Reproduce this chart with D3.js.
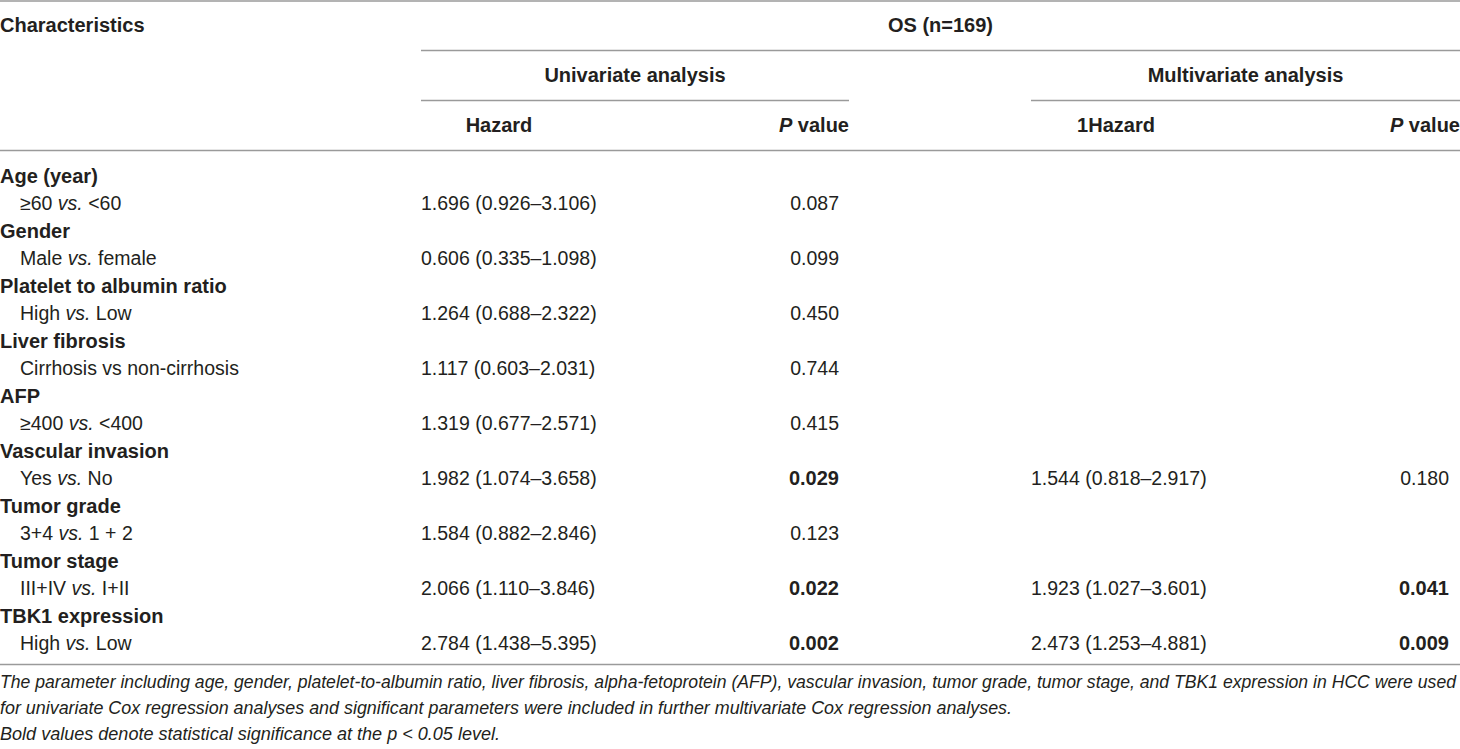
<!DOCTYPE html>
<html>
<head>
<meta charset="utf-8">
<script src="https://cdn.jsdelivr.net/npm/d3@7"></script>
<style>
  html, body { margin: 0; padding: 0; background: #fff; }
  svg { display: block; }
  text { font-family: "Liberation Sans", Arial, Helvetica, sans-serif; fill: #231f20; }
</style>
</head>
<body>
<svg id="chart" width="1460" height="749"></svg>
<script>
// ---------------- data ----------------
const title = "OS (n=169)";
const headerFirst = "Characteristics";
const groupLabels = ["Univariate analysis", "Multivariate analysis"];
const colLabels = ["Hazard", "P value", "1Hazard", "P value"];
const categories = ["Age (year)", "Gender", "Platelet to albumin ratio", "Liver fibrosis", "AFP",
  "Vascular invasion", "Tumor grade", "Tumor stage", "TBK1 expression"];
// segments wrapped in * * are italic
const comparisons = ["≥60 *vs.* <60", "Male *vs.* female", "High *vs.* Low", "Cirrhosis vs non-cirrhosis",
  "≥400 *vs.* <400", "Yes *vs.* No", "3+4 *vs.* 1 + 2", "III+IV *vs.* I+II", "High *vs.* Low"];
const uniHazard = ["1.696 (0.926–3.106)", "0.606 (0.335–1.098)", "1.264 (0.688–2.322)", "1.117 (0.603–2.031)",
  "1.319 (0.677–2.571)", "1.982 (1.074–3.658)", "1.584 (0.882–2.846)", "2.066 (1.110–3.846)", "2.784 (1.438–5.395)"];
const uniP = ["0.087", "0.099", "0.450", "0.744", "0.415", "0.029", "0.123", "0.022", "0.002"];
const multiHazard = [null, null, null, null, null, "1.544 (0.818–2.917)", null, "1.923 (1.027–3.601)", "2.473 (1.253–4.881)"];
const multiP = [null, null, null, null, null, "0.180", null, "0.041", "0.009"];
const alpha = 0.05;
const footnotes = [
  "The parameter including age, gender, platelet-to-albumin ratio, liver fibrosis, alpha-fetoprotein (AFP), vascular invasion, tumor grade, tumor stage, and TBK1 expression in HCC were used",
  "for univariate Cox regression analyses and significant parameters were included in further multivariate Cox regression analyses.",
  "Bold values denote statistical significance at the p < 0.05 level."
];

// ---------------- layout ----------------
const W = 1460;
const svg = d3.select("#chart");
const lineColor = "#9a9a9a";
const regSize = 19.5, boldSize = 20;

// rows: category row + comparison row per category
const rowKeys = [];
categories.forEach((c, i) => { rowKeys.push("c" + i); rowKeys.push("s" + i); });
const y = d3.scalePoint().domain(rowKeys).range([183, 650]);

// columns
const x = d3.scaleOrdinal()
  .domain(["label", "sub", "uniH", "uniP", "multiH", "multiP", "uniPHead", "multiPHead", "uniHHead", "multiHHead"])
  .range([0, 20, 421, 839, 1031, 1449, 849, 1460, 499, 1116]);
const groupSpan = [[421, 849], [1031, 1460]];

// rules
function hline(x1, x2, yy) {
  svg.append("line").attr("x1", x1).attr("x2", x2).attr("y1", yy).attr("y2", yy)
    .attr("stroke", lineColor).attr("stroke-width", 1.4);
}
hline(0, W, 1);
hline(421, W, 50.5);
groupSpan.forEach(s => hline(s[0], s[1], 100.5));
hline(0, W, 150.5);
hline(0, W, 664.5);

// header
svg.append("text").attr("x", 0).attr("y", 32).attr("font-weight", "bold").attr("font-size", boldSize).text(headerFirst);
svg.append("text").attr("x", (421 + W) / 2).attr("y", 32).attr("text-anchor", "middle")
  .attr("font-weight", "bold").attr("font-size", boldSize).text(title);
groupLabels.forEach((g, i) => {
  svg.append("text").attr("x", (groupSpan[i][0] + groupSpan[i][1]) / 2).attr("y", 82)
    .attr("text-anchor", "middle").attr("font-weight", "bold").attr("font-size", boldSize).text(g);
});
function headCell(label, xx, anchor) {
  const t = svg.append("text").attr("x", xx).attr("y", 132).attr("text-anchor", anchor)
    .attr("font-weight", "bold").attr("font-size", boldSize);
  if (label.startsWith("P ")) {
    t.append("tspan").attr("font-style", "italic").text("P");
    t.append("tspan").text(label.slice(1));
  } else t.text(label);
}
headCell(colLabels[0], x("uniHHead"), "middle");
headCell(colLabels[1], x("uniPHead"), "end");
headCell(colLabels[2], x("multiHHead"), "middle");
headCell(colLabels[3], x("multiPHead"), "end");

// body
categories.forEach((c, i) => {
  svg.append("text").attr("x", x("label")).attr("y", y("c" + i))
    .attr("font-weight", "bold").attr("font-size", boldSize).text(c);
  const t = svg.append("text").attr("x", x("sub")).attr("y", y("s" + i)).attr("font-size", regSize)
    .attr("xml:space", "preserve").style("white-space", "pre");
  comparisons[i].split("*").forEach((seg, k) => {
    if (!seg) return;
    const sp = t.append("tspan").text(seg);
    if (k % 2 === 1) sp.attr("font-style", "italic");
  });
  const yy = y("s" + i);
  svg.append("text").attr("x", x("uniH")).attr("y", yy).attr("font-size", regSize).text(uniHazard[i]);
  svg.append("text").attr("x", x("uniP")).attr("y", yy).attr("text-anchor", "end")
    .attr("font-size", +uniP[i] < alpha ? boldSize : regSize)
    .attr("font-weight", +uniP[i] < alpha ? "bold" : "normal").text(uniP[i]);
  if (multiHazard[i]) {
    svg.append("text").attr("x", x("multiH")).attr("y", yy).attr("font-size", regSize).text(multiHazard[i]);
  }
  if (multiP[i]) {
    svg.append("text").attr("x", x("multiP")).attr("y", yy).attr("text-anchor", "end")
      .attr("font-size", +multiP[i] < alpha ? boldSize : regSize)
      .attr("font-weight", +multiP[i] < alpha ? "bold" : "normal").text(multiP[i]);
  }
});

// footnotes
const fnWidths = [1456, 1012, 500];
const fnY = d3.scalePoint().domain(d3.range(footnotes.length)).range([688, 740]);
const fn = svg.selectAll("text.fn").data(footnotes).join("text").attr("class", "fn")
  .attr("x", 0).attr("y", (d, i) => fnY(i)).attr("font-style", "italic").attr("font-size", 18)
  .text(d => d);
// fit the first line to its width in the reference and scale all footnote lines alike
const natural = fn.nodes()[0].getComputedTextLength();
const fs = 18 * fnWidths[0] / natural;
fn.attr("font-size", fs)
  .attr("textLength", (d, i) => fnWidths[i])
  .attr("lengthAdjust", "spacingAndGlyphs");
</script>
</body>
</html>
